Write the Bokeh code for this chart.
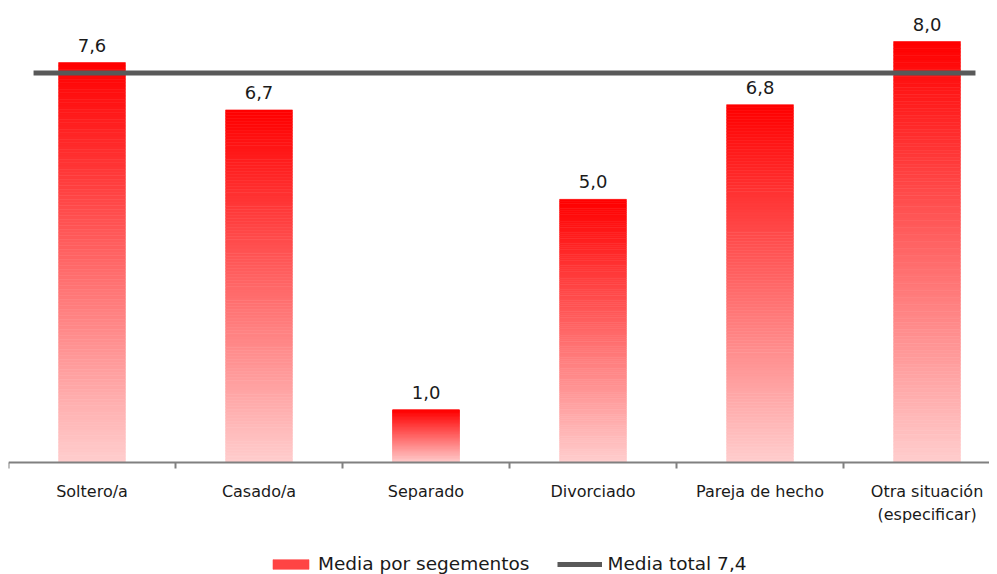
from bokeh.plotting import figure
from bokeh.models import FixedTicker, Range1d, Legend, LegendItem, ColumnDataSource
from bokeh.core.properties import value
from bokeh.embed import file_html
from bokeh.resources import INLINE

categories = ["Soltero/a", "Casado/a", "Separado", "Divorciado", "Pareja de hecho", "Otra situación\n(especificar)"]
values = [7.6, 6.7, 1.0, 5.0, 6.8, 8.0]
media_total = 7.4
labels = [f"{v:.1f}".replace(".", ",") for v in values]

FONT = "DejaVu Sans"
N = 120  # gradient slices per bar
BAR_HALF = 0.2

p = figure(frame_width=981, frame_height=574, x_range=Range1d(0, 5.874), y_range=Range1d(-2.13, 8.78),
           output_backend="svg", toolbar_location=None, y_axis_location=None,
           min_border_left=8, min_border_right=0, min_border_top=0, min_border_bottom=0)
p.outline_line_color = None
p.xgrid.visible = False
p.ygrid.visible = False
p.background_fill_color = "white"
p.border_fill_color = "white"

# gradient bars: red at top to light pink at bottom
left, right, bottom, top, colors = [], [], [], [], []
for i, v in enumerate(values):
    xc = i + 0.5
    for k in range(N):
        t = (k + 0.5) / N  # 0 at bottom
        g = int(round(206 * (1 - t)))
        left.append(xc - BAR_HALF)
        right.append(xc + BAR_HALF)
        bottom.append(v * k / N)
        top.append(v * (k + 1) / N)
        colors.append("#%02x%02x%02x" % (255, g, g))
src = ColumnDataSource(dict(left=left, right=right, bottom=bottom, top=top, color=colors))
bars = p.quad(left="left", right="right", bottom="bottom", top="top", fill_color="color",
              line_color="color", line_width=0.6, source=src)

# value labels
lsrc = ColumnDataSource(dict(x=[i + 0.5 for i in range(len(values))], y=values, t=labels))
p.text(x="x", y="y", text="t", source=lsrc, text_align="center", text_baseline="bottom",
       y_offset=-11, text_font=value(FONT), text_font_size="18px", text_color="#1a1a1a")

# mean line
mline = p.segment(x0=[0.15], x1=[5.79], y0=[media_total], y1=[media_total],
                  line_color="#595959", line_width=5)

ax = p.xaxis[0]
ax.fixed_location = 0
ax.ticker = FixedTicker(ticks=[i + 0.5 for i in range(len(categories))],
                        minor_ticks=list(range(len(categories) + 1)))
ax.major_label_overrides = {i + 0.5: c for i, c in enumerate(categories)}
ax.major_tick_in = 0
ax.major_tick_out = 0
ax.minor_tick_in = 0
ax.minor_tick_out = 6
ax.minor_tick_line_color = "#808080"
ax.minor_tick_line_width = 2
ax.axis_line_color = "#808080"
ax.axis_line_width = 2
ax.major_label_standoff = 14
ax.major_label_text_font = FONT
ax.major_label_text_font_size = "16px"
ax.major_label_text_color = "#1a1a1a"

legend = Legend(items=[
    LegendItem(label="Media por segementos", renderers=[bars], index=80),
    LegendItem(label="Media total 7,4", renderers=[mline]),
], orientation="horizontal", location=(260, 0))
legend.glyph_width = 45
legend.glyph_height = 12
legend.label_text_font = FONT
legend.label_text_font_size = "18.5px"
legend.label_text_color = "#1a1a1a"
legend.label_standoff = 5
legend.spacing = 28
legend.padding = 0
legend.margin = 0
legend.border_line_color = None
legend.background_fill_alpha = 0
p.add_layout(legend, "center")

open("out.html", "w").write(file_html(p, INLINE))
